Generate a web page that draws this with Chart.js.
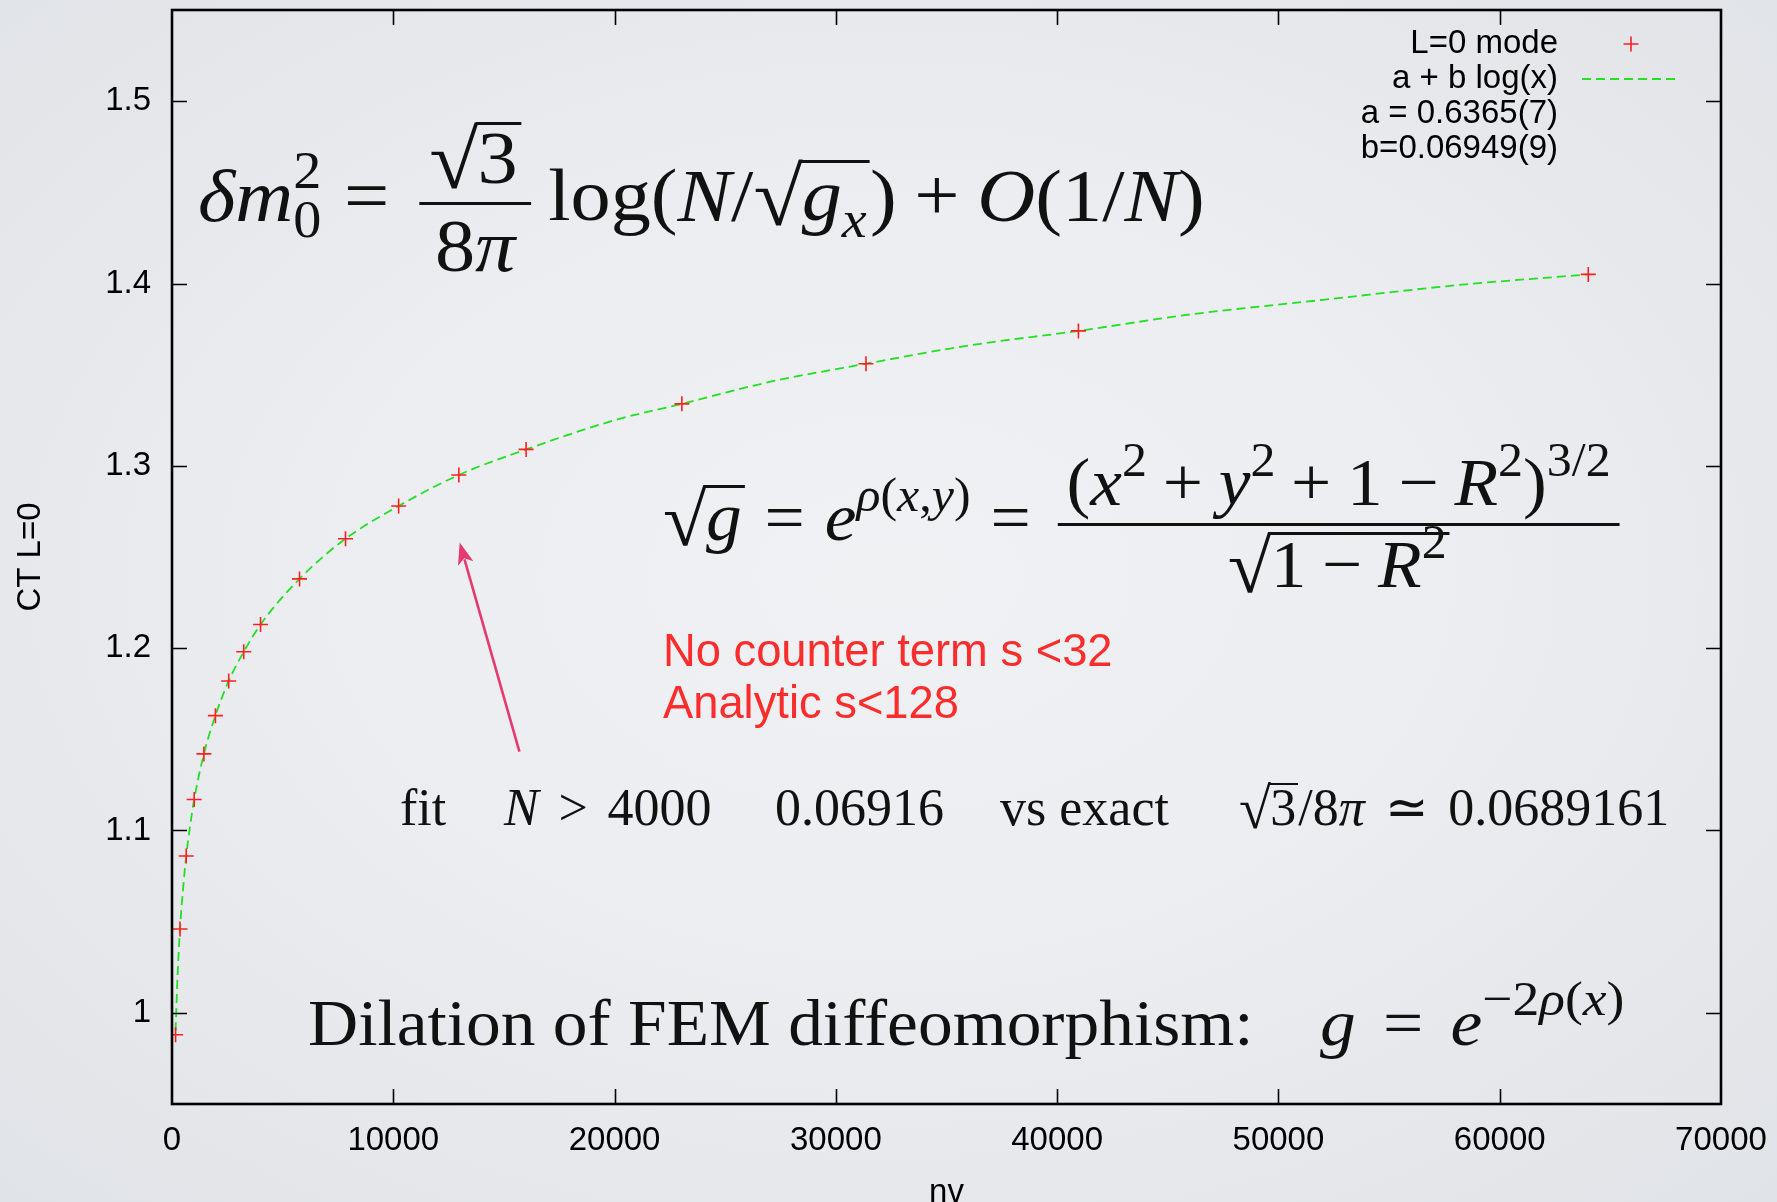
<!DOCTYPE html>
<html>
<head>
<meta charset="utf-8">
<title>CT L=0 versus nv</title>
<script src="https://cdn.jsdelivr.net/npm/chart.js@4.4.1/dist/chart.umd.min.js"></script>
<style>
  html, body { margin: 0; padding: 0; }
  body {
    width: 1777px; height: 1202px; overflow: hidden; position: relative;
    background: radial-gradient(ellipse 72% 72% at 50% 48%, #f0f1f3 0%, #ebedf0 45%, #e0e3e7 100%);
  }
  #plot { position: absolute; left: 0; top: 0; width: 1777px; height: 1202px; }
  canvas { display: block; }
  .note {
    position: absolute; left: 0; top: 0; white-space: nowrap;
    font-family: "Liberation Serif", "Times New Roman", serif; color: #111;
    line-height: 1.2; transform-origin: 0 0;
  }
  .bl { display: inline-block; width: 0; height: 0; }
  .mi { font-style: italic; }
  .rel { padding: 0 0.28em; }
  .bin { padding: 0 0.22em; }
  .sup { font-size: 0.7em; position: relative; top: -0.62em; line-height: 0; }
  .sub { font-size: 0.7em; position: relative; top: 0.32em; line-height: 0; }
  .st { margin-left: -0.5em; }
  .rad { font-size: 1.12em; line-height: 0; position: relative; top: 0.06em; margin-right: -0.03em; }
  .ov { display: inline-block; line-height: 0.85; border-top: 0.045em solid currentColor; padding: 0.02em 0.04em 0 0.02em; }
  .frac { display: inline-block; vertical-align: -0.69em; text-align: center; line-height: 1; margin: 0 0.1em; }
  .frac .num { display: block; padding: 0 0.12em 0.1em; border-bottom: 0.045em solid currentColor; }
  .frac .den { display: block; padding-top: 0.06em; }
  .quad { display: inline-block; width: 1em; }
  .seg { display: inline-block; }
  .sx { display: inline-block; transform-origin: 0 0; }
  .wide .rel { padding: 0 0.38em; }
  #remark { font-family: "Liberation Sans", Arial, sans-serif; color: #fb2c2c; font-size: 46px; line-height: 52px; }
</style>
</head>
<body>
<div id="plot"><canvas id="chart" width="1777" height="1202"></canvas></div>

<div class="note" id="eqMass" style="font-size:74px"><i class="bl"></i><span class="mi">δm</span><span class="sup">2</span><span class="sub st">0</span><span class="rel">=</span><span class="frac"><span class="num"><span class="rad">√</span><span class="ov">3</span></span><span class="den">8<span class="mi">π</span></span></span><span style="margin-left:0.12em">log(</span><span class="mi">N</span>/<span class="rad">√</span><span class="ov"><span class="mi">g</span><span class="sub mi">x</span></span>)<span class="bin">+</span><span class="mi">O</span>(1/<span class="mi">N</span>)</div>

<div class="note" id="eqMetric" style="font-size:68px"><i class="bl"></i><span class="rad">√</span><span class="ov"><span class="mi">g</span></span><span class="rel">=</span><span class="mi">e</span><span class="sup"><span class="mi">ρ</span>(<span class="mi">x</span>,<span class="mi">y</span>)</span><span class="rel">=</span><span class="frac"><span class="num">(<span class="mi">x</span><span class="sup">2</span><span class="bin">+</span><span class="mi">y</span><span class="sup">2</span><span class="bin">+</span>1<span class="bin">−</span><span class="mi">R</span><span class="sup">2</span>)<span class="sup">3/2</span></span><span class="den"><span class="rad">√</span><span class="ov">1<span class="bin">−</span><span class="mi">R</span><span class="sup">2</span></span></span></span></div>

<div id="remark" class="note"><i class="bl"></i>No counter term s &lt;32<br>Analytic s&lt;128</div>

<div class="note wide" id="fitNote" style="font-size:52px"><i class="bl"></i><span class="seg" style="width:104px">fit</span><span class="seg" style="width:271px"><span class="mi">N</span><span class="rel">&gt;</span>4000</span><span class="seg" style="width:225px">0.06916</span><span class="seg" style="width:239px">vs exact</span><span class="seg"><span class="rad">√</span><span class="ov">3</span>/8<span class="mi">π</span><span class="rel">≃</span>0.0689161</span></div>

<div class="note wide" id="dilation" style="font-size:65px"><i class="bl"></i><span class="seg" style="width:1012px"><span class="sx" style="transform:scaleX(1.068)">Dilation of FEM diffeomorphism:</span></span><span class="sx" style="transform:scaleX(1.1)"><span class="mi">g</span><span class="rel">=</span><span class="mi">e</span><span class="sup" style="font-size:0.75em">−2<span class="mi">ρ</span>(<span class="mi">x</span>)</span></span></div>

<script>
// Measured L=0 counter-term values against the number of vertices nv
const nv = [162, 362, 642, 1002, 1442, 1962, 2562, 3242, 4002, 5762, 7842, 10242, 12962, 16002, 23042, 31362, 40962, 64002];
const ctL0 = [0.988, 1.046, 1.086, 1.117, 1.142, 1.163, 1.182, 1.198, 1.213, 1.238, 1.260, 1.278, 1.295, 1.309, 1.334, 1.356, 1.374, 1.405];

// Fitted curve a + b log(x), sampled along the plotted dashed line
const fitNv = [162, 250, 362, 500, 642, 800, 1002, 1442, 1962, 2562, 3242, 4002, 5762, 7842, 10242, 12962, 16002, 20000, 23042, 27000, 31362, 36000, 40962, 46000, 52000, 58000, 64002];
const fitCt = [0.990, 1.020, 1.046, 1.068, 1.086, 1.101, 1.117, 1.142, 1.163, 1.182, 1.198, 1.213, 1.238, 1.260, 1.278, 1.295, 1.309, 1.325, 1.334, 1.346, 1.356, 1.366, 1.374, 1.383, 1.391, 1.399, 1.405];

const xTickValues = [0, 10000, 20000, 30000, 40000, 50000, 60000, 70000];
const yTickValues = [1.0, 1.1, 1.2, 1.3, 1.4, 1.5];
const fitParams = ['a = 0.6365(7)', 'b=0.06949(9)'];

// Annotation anchors, in data coordinates (left edge, text baseline)
const notes = [
  { id: 'eqMass',   x: 1175,  y: 1.4345, sx: 1.085 },
  { id: 'eqMetric', x: 22190, y: 1.2592, sx: 1.05 },
  { id: 'remark',   x: 22190, y: 1.1903, sx: 0.985 },
  { id: 'fitNote',  x: 10304, y: 1.1031, sx: 1.0 },
  { id: 'dilation', x: 6146,  y: 0.98245, sx: 1.0 }
];
const arrow = { from: { x: 15700, y: 1.1433 }, to: { x: 13000, y: 1.258 } };

const SANS = '"Liberation Sans", Arial, Helvetica, sans-serif';

// Closed frame with inward tick marks on all four sides
const framePlugin = {
  id: 'frame',
  afterDatasetsDraw(chart) {
    const { ctx, chartArea: a, scales: { x, y } } = chart;
    const tick = 15;
    ctx.save();
    ctx.strokeStyle = '#000';
    ctx.lineWidth = 1.6;
    ctx.beginPath();
    x.ticks.forEach(t => {
      if (t.value <= x.min || t.value >= x.max) return;
      const px = Math.round(x.getPixelForValue(t.value)) + 0.5;
      ctx.moveTo(px, a.bottom); ctx.lineTo(px, a.bottom - tick);
      ctx.moveTo(px, a.top); ctx.lineTo(px, a.top + tick);
    });
    y.ticks.forEach(t => {
      const py = Math.round(y.getPixelForValue(t.value)) + 0.5;
      ctx.moveTo(a.left, py); ctx.lineTo(a.left + tick, py);
      ctx.moveTo(a.right, py); ctx.lineTo(a.right - tick, py);
    });
    ctx.stroke();
    ctx.lineWidth = 2.6;
    ctx.strokeRect(a.left, a.top, a.right - a.left, a.bottom - a.top);
    ctx.restore();
  }
};

// gnuplot-style key: right-justified text, sample to its right
const keyPlugin = {
  id: 'key',
  afterDraw(chart) {
    const { ctx, chartArea: a } = chart;
    const textRight = a.right - 163;
    const sampleL = a.right - 139, sampleR = a.right - 41;
    const rowTop = a.top + 34, pitch = 35;
    ctx.save();
    ctx.font = '33px ' + SANS;
    ctx.fillStyle = '#000';
    ctx.textAlign = 'right';
    ctx.textBaseline = 'middle';
    const rows = chart.data.datasets.map(d => d.label).concat(fitParams);
    rows.forEach((txt, i) => ctx.fillText(txt, textRight, rowTop + i * pitch));
    // point sample
    const d0 = chart.data.datasets[0];
    const cx = (sampleL + sampleR) / 2, cy = rowTop;
    const r = d0.pointRadius;
    ctx.strokeStyle = d0.borderColor; ctx.lineWidth = d0.borderWidth;
    ctx.beginPath();
    ctx.moveTo(cx - r, cy); ctx.lineTo(cx + r, cy);
    ctx.moveTo(cx, cy - r); ctx.lineTo(cx, cy + r);
    ctx.stroke();
    // line sample
    const d1 = chart.data.datasets[1];
    ctx.strokeStyle = d1.borderColor; ctx.lineWidth = d1.borderWidth;
    ctx.setLineDash(d1.borderDash);
    ctx.beginPath();
    ctx.moveTo(sampleL, rowTop + pitch); ctx.lineTo(sampleR, rowTop + pitch);
    ctx.stroke();
    ctx.restore();
  }
};

// Arrow and text annotations placed through the chart scales
const notesPlugin = {
  id: 'notes',
  afterDraw(chart) {
    const { ctx, scales: { x, y } } = chart;
    const x0 = x.getPixelForValue(arrow.from.x), y0 = y.getPixelForValue(arrow.from.y);
    const x1 = x.getPixelForValue(arrow.to.x), y1 = y.getPixelForValue(arrow.to.y);
    const ang = Math.atan2(y1 - y0, x1 - x0);
    const headLen = 22, headHalf = 8;
    ctx.save();
    ctx.strokeStyle = '#e6396f'; ctx.fillStyle = '#e6396f';
    ctx.lineWidth = 2.6;
    ctx.beginPath();
    ctx.moveTo(x0, y0);
    ctx.lineTo(x1 - Math.cos(ang) * headLen * 0.8, y1 - Math.sin(ang) * headLen * 0.8);
    ctx.stroke();
    ctx.translate(x1, y1); ctx.rotate(ang);
    ctx.beginPath();
    ctx.moveTo(0, 0);
    ctx.lineTo(-headLen, -headHalf);
    ctx.lineTo(-headLen * 0.75, 0);
    ctx.lineTo(-headLen, headHalf);
    ctx.closePath();
    ctx.fill();
    ctx.restore();

    notes.forEach(n => {
      const el = document.getElementById(n.id);
      const bl = el.querySelector('.bl');
      el.style.transform = 'scaleX(' + n.sx + ')';
      el.style.left = x.getPixelForValue(n.x) + 'px';
      el.style.top = (y.getPixelForValue(n.y) - bl.offsetTop) + 'px';
    });
  }
};

const ctx = document.getElementById('chart').getContext('2d');
new Chart(ctx, {
  type: 'scatter',
  data: {
    datasets: [
      {
        label: 'L=0 mode',
        data: nv.map((v, i) => ({ x: v, y: ctL0[i] })),
        showLine: false,
        pointStyle: 'cross',
        pointRadius: 7.5,
        pointHoverRadius: 7.5,
        borderColor: '#ff1f1f',
        backgroundColor: '#ff1f1f',
        borderWidth: 1.6,
        order: 0
      },
      {
        label: 'a + b log(x)',
        data: fitNv.map((v, i) => ({ x: v, y: fitCt[i] })),
        showLine: true,
        pointRadius: 0,
        borderColor: '#22e022',
        borderWidth: 1.8,
        borderDash: [9, 5],
        cubicInterpolationMode: 'monotone',
        fill: false,
        order: 1
      }
    ]
  },
  options: {
    responsive: false,
    animation: false,
    devicePixelRatio: 1,
    events: [],
    layout: { padding: { top: 10, right: 56, bottom: 0, left: 0 } },
    plugins: { legend: { display: false }, tooltip: { enabled: false } },
    scales: {
      x: {
        type: 'linear', min: 0, max: 70000,
        afterBuildTicks: s => { s.ticks = xTickValues.map(v => ({ value: v })); },
        afterFit: s => { s.height = 98; s.paddingLeft = 0; s.paddingRight = 0; },
        grid: { display: false, drawTicks: false },
        border: { display: false },
        ticks: {
          autoSkip: false, maxRotation: 0, padding: 17, color: '#000',
          font: { family: SANS, size: 33 },
          callback: v => String(v)
        },
        title: {
          display: true, text: 'nv', color: '#000',
          font: { family: SANS, size: 33, lineHeight: 1 },
          padding: { top: 0, bottom: -7 }
        }
      },
      y: {
        type: 'linear', min: 0.95, max: 1.55,
        afterBuildTicks: s => { s.ticks = yTickValues.map(v => ({ value: v })); },
        afterFit: s => { s.width = 172; s.paddingTop = 0; s.paddingBottom = 0; },
        grid: { display: false, drawTicks: false },
        border: { display: false },
        ticks: {
          autoSkip: false, padding: 21, color: '#000',
          font: { family: SANS, size: 33 },
          callback: v => String(Math.round(v * 10) / 10)
        },
        title: {
          display: true, text: 'CT L=0', color: '#000',
          font: { family: SANS, size: 33, lineHeight: 1.2 },
          padding: { top: 11, bottom: 0 }
        }
      }
    }
  },
  plugins: [framePlugin, keyPlugin, notesPlugin]
});
</script>
</body>
</html>
